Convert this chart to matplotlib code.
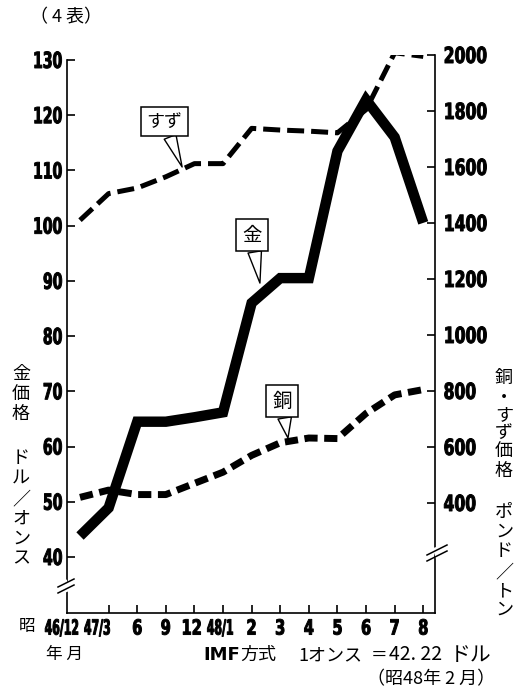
import matplotlib
matplotlib.use("Agg")
import matplotlib.pyplot as plt
from matplotlib.lines import Line2D
from matplotlib import font_manager as fm
from matplotlib.transforms import ScaledTranslation, Affine2D
from matplotlib.patheffects import AbstractPathEffect

# ----- datos -----
months = ["46/12", "47/3", "6", "9", "12", "48/1", "2", "3", "4", "5", "6", "7", "8"]
gold = [43.8, 48.9, 64.5, 64.5, 65.3, 66.2, 86.0, 90.5, 90.5, 113.5, 122.8, 116.0, 100.5]   # ドル/オンス
tin = [1410, 1505, 1525, 1565, 1612, 1612, 1738, 1732, 1728, 1722, 1805, 2008, 1995]        # ポンド/トン
copper = [420, 446, 430, 430, 470, 510, 570, 615, 632, 630, 720, 786, 805]                  # ポンド/トン

left_ticks = [40, 50, 60, 70, 80, 90, 100, 110, 120, 130]
right_ticks = [400, 600, 800, 1000, 1200, 1400, 1600, 1800, 2000]

JP = ["Noto Sans CJK JP", "DejaVu Sans"]

# fuente negrita (estrecha si existe) para las cifras
narrow = [f for f in fm.fontManager.ttflist
          if any(k in (f.fname + f.name) for k in ("Condensed", "Narrow"))]
bold_narrow = [f for f in narrow if f.weight in (600, 700, 800, "bold", "semibold")]
pick = bold_narrow or narrow
if pick:
    def numfont(size):
        return fm.FontProperties(fname=pick[0].fname, size=size)
    SQ = 1.0
else:
    def numfont(size):
        return fm.FontProperties(family="DejaVu Sans", weight="bold", size=size)
    SQ = 0.9


class Squeeze(AbstractPathEffect):
    """Comprime horizontalmente (y engrosa) las cifras, como en el original."""
    def __init__(self, sx, anchor="center", stroke=0.7):
        super().__init__()
        self.sx = sx
        self.anchor = anchor
        self.stroke = stroke

    def draw_path(self, renderer, gc, tpath, affine, rgbFace=None):
        ext = tpath.get_extents()
        cx = {"left": ext.x0, "right": ext.x1}.get(self.anchor, ext.x0 + ext.width / 2)
        pre = Affine2D().translate(-cx, 0).scale(self.sx, 1).translate(cx, 0)
        gc0 = renderer.new_gc()
        gc0.copy_properties(gc)
        gc0.set_linewidth(self.stroke)
        gc0.set_foreground(rgbFace if rgbFace is not None else "black")
        renderer.draw_path(gc0, tpath, pre + affine, rgbFace)
        gc0.restore()


W, H = 516, 693
def fx(px):
    return px / W
def fy(py):
    return 1 - py / H

fig = plt.figure(figsize=(W / 100, H / 100), dpi=100)
ax = fig.add_axes([fx(67), fy(613), (435 - 67) / W, (613 - 55) / H])
ax2 = ax.twinx()

x = list(range(len(months)))
ax.plot(x, gold, color="black", lw=7.5, solid_capstyle="butt", solid_joinstyle="miter")
ax2.plot(x, tin, color="black", lw=3.6, dashes=(3.4, 1.4), dash_capstyle="butt")
ax2.plot(x, copper, color="black", lw=5.0, dashes=(1.9, 0.95), dash_capstyle="butt")

ax.set_xlim(-0.455, 12.41)
ax.set_ylim(29.86, 130.9)
ax2.set_ylim(7, 2000)

for s in ["top", "right"]:
    ax.spines[s].set_visible(False)
for s in ["top", "left", "bottom"]:
    ax2.spines[s].set_visible(False)
ax.spines["left"].set_bounds(29.86, 130)
for sp in [ax.spines["left"], ax.spines["bottom"], ax2.spines["right"]]:
    sp.set_linewidth(1.2)

ax.set_yticks(left_ticks)
for t in ax.set_yticklabels([str(v) for v in left_ticks], fontproperties=numfont(16)):
    t.set_path_effects([Squeeze(0.70 * SQ, "right")])
ax2.set_yticks(right_ticks)
for t in ax2.set_yticklabels([str(v) for v in right_ticks], fontproperties=numfont(16)):
    t.set_path_effects([Squeeze(0.78 * SQ, "left")])
ax.tick_params(axis="y", direction="in", length=6, width=1.2, pad=3)
ax2.tick_params(axis="y", direction="in", length=6, width=1.2, pad=6)

ax.set_xticks(x)
for t, m in zip(ax.set_xticklabels(months, fontproperties=numfont(15)), months):
    t.set_path_effects([Squeeze((0.58 if "/" in m else 0.78) * SQ, "center")])
ax.tick_params(axis="x", direction="in", length=6, width=1.2, pad=4)
ax.xaxis.get_major_ticks()[0].tick1line.set_visible(False)
xl = ax.get_xticklabels()
for i, dx in [(0, -13), (1, -8), (4, -2), (5, -2)]:
    xl[i].set_transform(xl[i].get_transform() + ScaledTranslation(dx / 72, 0, fig.dpi_scale_trans))

# ----- cortes de eje -----
for cx, cy, dx, dy in [(66, 586, 8, 4), (437, 553, 10, 5)]:
    fig.add_artist(Line2D([fx(cx - 1), fx(cx + 1)], [fy(cy - 3), fy(cy + 3)], color="white", lw=4))
    for off in (-3, 3):
        fig.add_artist(Line2D([fx(cx - dx), fx(cx + dx)], [fy(cy + off + dy), fy(cy + off - dy)],
                              color="black", lw=1.1))

# ----- etiquetas de serie -----
box = dict(boxstyle="square,pad=0.3", fc="white", ec="black", lw=1.1)
wedge = dict(arrowstyle="wedge,tail_width=0.7", fc="white", ec="black", lw=1.0, shrinkA=0, shrinkB=0)
ax2.annotate("すず", xy=(3.57, 1600), xytext=(2.94, 1761), ha="center", va="center",
             family=JP, fontsize=13, bbox=box, arrowprops=wedge)
ax.annotate("金", xy=(6.29, 89.6), xytext=(6.01, 98.3), ha="center", va="center",
            family=JP, fontsize=14, bbox=box, arrowprops=wedge)
ax2.annotate("銅", xy=(7.27, 632), xytext=(7.06, 764), ha="center", va="center",
             family=JP, fontsize=14, bbox=box, arrowprops=wedge)

# ----- títulos de eje verticales -----
for ch, py in zip("金価格", [374, 394, 414]):
    fig.text(fx(21), fy(py), ch, ha="center", va="center", family=JP, fontsize=13)
for ch, py in zip("ドル／オンス", [458, 478, 499, 519, 539, 558]):
    fig.text(fx(21), fy(py), ch, ha="center", va="center", family=JP, fontsize=13)
for ch, py in zip("銅・すず価格", [378, 398, 415, 433, 451, 471]):
    fig.text(fx(504), fy(py), ch, ha="center", va="center", family=JP, fontsize=13)
for ch, py in zip("ポンド／トン", [512, 532, 551, 572, 591, 610]):
    fig.text(fx(504), fy(py), ch, ha="center", va="center", family=JP, fontsize=13)

# ----- textos sueltos -----
fig.text(fx(30), fy(17), "（ 4 表）", ha="left", va="center", family=JP, fontsize=13)
fig.text(fx(27), fy(627), "昭", ha="center", va="center", family=JP, fontsize=12)
fig.text(fx(65), fy(654), "年 月", ha="center", va="center", family=JP, fontsize=12)
fig.text(fx(203), fy(655), "IMF", ha="left", va="center", family="DejaVu Sans", weight="bold", fontsize=13)
fig.text(fx(240), fy(655), "方式", ha="left", va="center", family=JP, fontsize=13)
fig.text(fx(298), fy(655), "1オンス", ha="left", va="center", family=JP, fontsize=13)
fig.text(fx(379), fy(655), "＝", ha="center", va="center", family=JP, fontsize=12)
fig.text(fx(389), fy(655), "42. 22", ha="left", va="center", family=JP, fontsize=14)
fig.text(fx(450), fy(655), "ドル", ha="left", va="center", family=JP, fontsize=15)
fig.text(fx(431), fy(679), "（昭48年 2 月）", ha="center", va="center", family=JP, fontsize=13)

fig.savefig("out.png", dpi=100)
